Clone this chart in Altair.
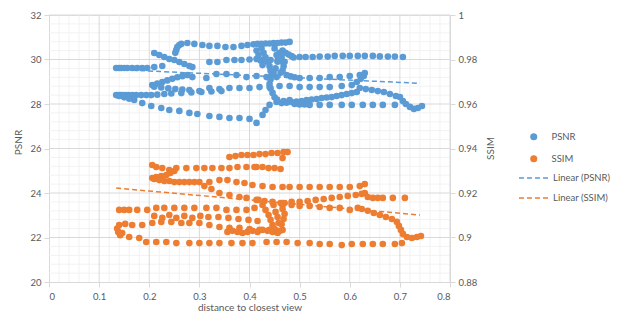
import altair as alt
import pandas as pd

FONT = "Lato"
GRAY = "#595959"
BLUE = "#5B9BD5"
ORANGE = "#ED7D31"

# ---------------- PSNR samples (distance, PSNR) ----------------
psnr_top_arc = [(0.252, 30.30), (0.254, 30.43), (0.256, 30.56), (0.26, 30.65), (0.264, 30.70),
                (0.276, 30.74), (0.29, 30.70), (0.306, 30.65), (0.32, 30.61), (0.336, 30.61),
                (0.352, 30.56), (0.368, 30.56), (0.384, 30.61), (0.396, 30.65), (0.408, 30.68),
                (0.416, 30.70), (0.424, 30.70), (0.432, 30.72), (0.44, 30.72), (0.448, 30.74),
                (0.456, 30.74), (0.464, 30.76), (0.472, 30.76), (0.48, 30.79),
                (0.466, 30.40), (0.472, 30.30), (0.478, 30.22), (0.484, 30.15)]
psnr_right_top = [(0.488, 30.09), (0.50, 30.11), (0.512, 30.11), (0.526, 30.11), (0.54, 30.13),
                  (0.556, 30.13), (0.57, 30.16), (0.586, 30.16), (0.60, 30.16), (0.616, 30.16),
                  (0.63, 30.16), (0.646, 30.16), (0.66, 30.14), (0.676, 30.13), (0.69, 30.13),
                  (0.706, 30.11)]
psnr_upper_z = [(0.21, 30.29), (0.22, 30.20), (0.23, 30.11), (0.24, 30.02), (0.25, 29.98),
                (0.26, 29.89), (0.27, 29.80), (0.28, 29.71), (0.286, 29.66),
                (0.32, 29.89), (0.336, 29.89), (0.354, 29.98), (0.37, 29.98), (0.384, 29.98),
                (0.40, 30.00), (0.414, 30.02), (0.428, 30.00), (0.442, 29.98), (0.456, 29.95),
                (0.47, 29.90)]
psnr_row_296 = [(0.134, 29.62), (0.14, 29.62), (0.144, 29.62), (0.15, 29.62), (0.156, 29.62),
                (0.166, 29.62), (0.176, 29.62), (0.186, 29.62), (0.196, 29.62), (0.21, 29.66),
                (0.226, 29.71)]
psnr_row_292 = [(0.206, 28.85), (0.216, 28.92), (0.226, 28.99), (0.236, 29.06), (0.246, 29.13),
                (0.256, 29.20), (0.266, 29.25), (0.276, 29.30),
                (0.286, 29.21), (0.314, 29.17), (0.334, 29.35), (0.354, 29.35), (0.374, 29.30),
                (0.394, 29.21), (0.414, 29.26), (0.434, 29.21), (0.454, 29.21), (0.474, 29.30),
                (0.482, 29.24), (0.49, 29.20), (0.50, 29.17), (0.52, 29.17), (0.54, 29.17),
                (0.56, 29.21), (0.58, 29.21), (0.60, 29.26), (0.62, 29.30), (0.63, 29.39)]
psnr_row_287 = [(0.21, 28.78), (0.224, 28.74), (0.238, 28.70), (0.252, 28.67), (0.266, 28.65),
                (0.28, 28.63), (0.30, 28.58), (0.32, 28.72), (0.34, 28.67), (0.36, 28.72),
                (0.38, 28.72), (0.40, 28.72), (0.42, 28.76), (0.44, 28.76), (0.46, 28.81),
                (0.48, 28.81), (0.50, 28.76), (0.52, 28.76), (0.54, 28.76), (0.56, 28.76),
                (0.584, 28.81), (0.604, 28.85), (0.614, 28.99), (0.622, 29.13), (0.628, 29.26)]
psnr_row_284 = [(0.134, 28.40), (0.138, 28.40), (0.142, 28.40), (0.146, 28.40), (0.152, 28.40),
                (0.158, 28.40), (0.166, 28.40), (0.174, 28.40), (0.184, 28.40), (0.194, 28.40),
                (0.204, 28.40), (0.216, 28.42), (0.23, 28.45), (0.244, 28.47), (0.264, 28.49),
                (0.284, 28.52), (0.304, 28.54), (0.324, 28.56), (0.344, 28.58)]
psnr_low_arc = [(0.14, 28.36), (0.15, 28.30), (0.16, 28.24), (0.17, 28.18), (0.186, 28.04),
                (0.204, 27.91), (0.224, 27.82), (0.24, 27.73), (0.26, 27.69), (0.28, 27.60),
                (0.296, 27.55), (0.32, 27.46), (0.34, 27.42), (0.36, 27.37), (0.38, 27.37),
                (0.40, 27.33), (0.414, 27.15), (0.426, 27.51), (0.432, 27.73), (0.44, 27.96),
                (0.454, 28.09), (0.468, 28.13), (0.48, 28.18)]
psnr_rise = [(0.464, 28.04), (0.474, 28.06), (0.484, 28.09), (0.494, 28.11), (0.504, 28.13),
             (0.514, 28.18), (0.524, 28.20), (0.534, 28.22), (0.544, 28.27), (0.554, 28.29),
             (0.564, 28.31), (0.574, 28.36), (0.584, 28.40), (0.594, 28.45), (0.604, 28.49),
             (0.614, 28.54)]
psnr_fall = [(0.62, 28.72), (0.632, 28.67), (0.644, 28.63), (0.656, 28.58), (0.668, 28.54),
             (0.68, 28.45), (0.692, 28.36), (0.70, 28.31), (0.706, 28.13), (0.712, 28.00),
             (0.72, 27.87), (0.728, 27.78), (0.736, 27.82), (0.744, 27.91)]
psnr_bottom = [(0.49, 28.00), (0.50, 27.98), (0.51, 27.98), (0.52, 27.96), (0.54, 27.96),
               (0.56, 27.96), (0.584, 27.96), (0.604, 27.96), (0.626, 27.96), (0.646, 27.96),
               (0.666, 27.96), (0.69, 27.96)]
psnr_cluster = [(0.424, 30.5), (0.428, 30.3), (0.432, 30.1), (0.436, 29.9), (0.44, 29.7),
                (0.442, 29.5), (0.444, 29.3), (0.442, 29.1), (0.44, 28.9), (0.442, 28.7),
                (0.446, 28.5), (0.45, 28.3), (0.455, 28.2), (0.46, 30.3), (0.464, 30.1),
                (0.466, 29.9), (0.468, 29.7), (0.466, 29.5), (0.462, 29.4), (0.45, 30.5),
                (0.454, 30.2), (0.456, 29.9), (0.452, 29.6), (0.448, 29.4), (0.414, 30.4),
                (0.418, 30.2), (0.422, 29.95), (0.426, 29.75)]

# ---------------- SSIM samples (distance, SSIM) ----------------
ssim_top = [(0.36, 0.9362), (0.372, 0.9366), (0.384, 0.9371), (0.396, 0.9371), (0.408, 0.9371),
            (0.42, 0.9375), (0.432, 0.9375), (0.444, 0.938), (0.456, 0.938), (0.468, 0.9384),
            (0.476, 0.9384), (0.414, 0.9317), (0.426, 0.9317), (0.438, 0.9312), (0.45, 0.9312),
            (0.462, 0.9308), (0.466, 0.9357)]
ssim_z = [(0.206, 0.9326), (0.214, 0.9317), (0.226, 0.9312), (0.24, 0.9303), (0.254, 0.9312),
          (0.274, 0.9312), (0.294, 0.9312), (0.31, 0.9312), (0.326, 0.9312), (0.344, 0.9312),
          (0.36, 0.9312), (0.376, 0.9317), (0.394, 0.9317), (0.41, 0.9317),
          (0.25, 0.9299), (0.242, 0.929), (0.234, 0.9281), (0.224, 0.9276), (0.214, 0.9272),
          (0.206, 0.9267), (0.21, 0.9263), (0.22, 0.9258), (0.23, 0.9254), (0.24, 0.9254),
          (0.25, 0.9249), (0.26, 0.9249), (0.27, 0.9249), (0.28, 0.9249), (0.29, 0.9249),
          (0.30, 0.9249)]
ssim_row_923 = [(0.32, 0.9249), (0.34, 0.9258), (0.356, 0.9258), (0.374, 0.9249), (0.39, 0.9245),
                (0.406, 0.9236), (0.426, 0.9231), (0.446, 0.9227), (0.466, 0.9227), (0.48, 0.9227),
                (0.50, 0.9227), (0.52, 0.9227), (0.54, 0.9227), (0.56, 0.9227), (0.58, 0.9227),
                (0.60, 0.9227), (0.62, 0.9231), (0.63, 0.924)]
ssim_desc = [(0.31, 0.9231), (0.324, 0.9218), (0.34, 0.92), (0.36, 0.9191), (0.38, 0.9182),
             (0.394, 0.9178), (0.414, 0.9169), (0.43, 0.9164), (0.446, 0.916), (0.466, 0.9155)]
ssim_rise = [(0.47, 0.9155), (0.484, 0.916), (0.50, 0.916), (0.516, 0.9164), (0.532, 0.9169),
             (0.548, 0.9173), (0.564, 0.9178), (0.58, 0.9182), (0.596, 0.9187), (0.612, 0.9191),
             (0.624, 0.9196), (0.63, 0.92), (0.636, 0.9182), (0.646, 0.9178), (0.656, 0.9178),
             (0.666, 0.9178), (0.686, 0.9178), (0.71, 0.9178)]
ssim_mid = [(0.466, 0.9146), (0.484, 0.9146), (0.50, 0.9142), (0.52, 0.9142), (0.54, 0.9137),
            (0.56, 0.9133), (0.58, 0.9133), (0.60, 0.9124), (0.616, 0.9133), (0.624, 0.9128),
            (0.636, 0.912), (0.648, 0.911), (0.66, 0.9101), (0.672, 0.9092), (0.684, 0.9083),
            (0.694, 0.907), (0.698, 0.9052), (0.702, 0.9034), (0.706, 0.9016), (0.714, 0.9002),
            (0.724, 0.8998), (0.734, 0.9002), (0.742, 0.9007)]
ssim_bottom = [(0.146, 0.902), (0.16, 0.9002), (0.18, 0.8998), (0.194, 0.898), (0.214, 0.898),
               (0.234, 0.898), (0.254, 0.8975), (0.28, 0.8975), (0.30, 0.8975), (0.32, 0.8975),
               (0.34, 0.8975), (0.364, 0.8975), (0.386, 0.8975), (0.406, 0.8975), (0.434, 0.898),
               (0.454, 0.898), (0.474, 0.898), (0.496, 0.8975), (0.52, 0.8975), (0.54, 0.8971),
               (0.56, 0.8971), (0.584, 0.8966), (0.604, 0.8971), (0.626, 0.8971), (0.646, 0.8971),
               (0.666, 0.8971), (0.69, 0.8971), (0.704, 0.8975)]
ssim_row_912 = [(0.14, 0.9124), (0.15, 0.9124), (0.16, 0.9124), (0.176, 0.9124), (0.196, 0.9124),
                (0.214, 0.9133), (0.23, 0.9133), (0.25, 0.9133), (0.27, 0.9133), (0.29, 0.9133),
                (0.314, 0.9133), (0.334, 0.9133), (0.354, 0.9124), (0.374, 0.9124),
                (0.394, 0.9124), (0.41, 0.9133)]
ssim_row_906 = [(0.136, 0.904), (0.138, 0.9025), (0.142, 0.901), (0.14, 0.9056), (0.152, 0.9061),
                (0.166, 0.9056), (0.186, 0.9056), (0.206, 0.9065), (0.224, 0.907), (0.244, 0.907),
                (0.264, 0.9065), (0.28, 0.9065), (0.30, 0.9065), (0.32, 0.9056), (0.34, 0.9047),
                (0.36, 0.9043), (0.38, 0.9043), (0.40, 0.9038), (0.42, 0.9034), (0.44, 0.9034),
                (0.46, 0.9029)]
ssim_zig = [(0.21, 0.9097), (0.226, 0.9088), (0.24, 0.9101), (0.254, 0.9088), (0.27, 0.9097),
            (0.286, 0.9088), (0.302, 0.9097), (0.318, 0.9092), (0.338, 0.9092), (0.358, 0.9088),
            (0.378, 0.9083), (0.398, 0.9079), (0.416, 0.9074),
            (0.356, 0.9025), (0.366, 0.903), (0.376, 0.9025), (0.386, 0.902), (0.396, 0.9025),
            (0.406, 0.903), (0.416, 0.9025), (0.426, 0.9034), (0.436, 0.903), (0.446, 0.9025),
            (0.456, 0.903), (0.466, 0.9034)]
ssim_cluster = [(0.418, 0.9169), (0.426, 0.9146), (0.432, 0.9124), (0.438, 0.9101), (0.442, 0.9079),
                (0.446, 0.9056), (0.45, 0.9038), (0.456, 0.902), (0.462, 0.9155), (0.466, 0.9128),
                (0.47, 0.9106), (0.468, 0.9083), (0.464, 0.906), (0.448, 0.9146), (0.452, 0.9115),
                (0.456, 0.9092), (0.458, 0.9065)]

# Linear trend lines (end points)
trend_x = [0.134, 0.74]
trend_psnr = [29.55, 28.93]
trend_ssim = [0.9222, 0.9101]

# Axis ticks
x_ticks = [0, 0.1, 0.2, 0.3, 0.4, 0.5, 0.6, 0.7, 0.8]
psnr_ticks = [20, 22, 24, 26, 28, 30, 32]
ssim_ticks = [0.88, 0.9, 0.92, 0.94, 0.96, 0.98, 1.0]
x_minor = [round(i * 0.02, 2) for i in range(41) if i % 5]
y_minor = [round(20 + i * 0.4, 1) for i in range(31) if i % 5]

psnr_pts = (psnr_top_arc + psnr_right_top + psnr_upper_z + psnr_row_296 + psnr_row_292 +
            psnr_row_287 + psnr_row_284 + psnr_low_arc + psnr_rise + psnr_fall + psnr_bottom +
            psnr_cluster)
ssim_pts = (ssim_top + ssim_z + ssim_row_923 + ssim_desc + ssim_rise + ssim_mid + ssim_bottom +
            ssim_row_912 + ssim_row_906 + ssim_zig + ssim_cluster)

psnr_df = pd.DataFrame(psnr_pts, columns=["x", "v"]).assign(series="PSNR")
ssim_df = pd.DataFrame(ssim_pts, columns=["x", "v"]).assign(series="SSIM")
tp_df = pd.DataFrame({"x": trend_x, "v": trend_psnr, "trend": "Linear (PSNR)"})
ts_df = pd.DataFrame({"x": trend_x, "v": trend_ssim, "trend": "Linear (SSIM)"})

x_scale = alt.Scale(domain=[0, 0.8], nice=False, zero=False)
yp_scale = alt.Scale(domain=[20, 32], nice=False, zero=False)
ys_scale = alt.Scale(domain=[0.88, 1.0], nice=False, zero=False)

axis_common = dict(grid=False, domainColor="#D9D9D9", tickColor="#D9D9D9", tickSize=5,
                   labelColor=GRAY, labelFont=FONT, labelFontSize=9.5, titleColor=GRAY,
                   titleFont=FONT, titleFontSize=10, titleFontWeight="normal")

x_axis = alt.Axis(values=x_ticks, format="~g", title="distance to closest view",
                  labelPadding=4, titlePadding=2, **axis_common)
yp_axis = alt.Axis(values=psnr_ticks, format="d", title="PSNR", orient="left",
                   labelPadding=3, titleAngle=270, titleX=-31, titleY=127,
                   titleAlign="center", titleBaseline="middle", **axis_common)
ys_axis = alt.Axis(values=ssim_ticks, format="~g", title="SSIM", orient="right",
                   labelPadding=3, titleAngle=270, titleX=40, titleY=133,
                   titleAlign="center", titleBaseline="middle", **axis_common)

X = alt.X("x:Q", scale=x_scale, axis=x_axis)

color = alt.Color("series:N", scale=alt.Scale(domain=["PSNR", "SSIM"], range=[BLUE, ORANGE]),
                  legend=alt.Legend(title=None, orient="none", legendX=480, legendY=117,
                                    symbolType="circle", symbolSize=50, labelOffset=13,
                                    labelFont=FONT, labelFontSize=9.5, labelColor=GRAY,
                                    rowPadding=11))
stroke = alt.Stroke("trend:N", scale=alt.Scale(domain=["Linear (PSNR)", "Linear (SSIM)"],
                                                range=[BLUE, ORANGE]),
                    legend=alt.Legend(title=None, orient="none", legendX=477, legendY=154,
                                      symbolType="M-2,0H2", symbolSize=256,
                                      symbolDash=[5, 3], symbolStrokeWidth=1.5, labelOffset=9,
                                      labelFont=FONT, labelFontSize=9.5, labelColor=GRAY,
                                      rowPadding=6))

Yp_grid = alt.Y("v:Q", scale=yp_scale, axis=yp_axis)
X_grid = alt.X("x:Q", scale=x_scale, axis=x_axis)

grid_x_minor = alt.Chart(pd.DataFrame({"x": x_minor})).mark_rule(
    color="#F2F2F2", strokeWidth=1).encode(x=X_grid)
grid_x_major = alt.Chart(pd.DataFrame({"x": x_ticks[1:]})).mark_rule(
    color="#D9D9D9", strokeWidth=1).encode(x=X_grid)
grid_y_minor = alt.Chart(pd.DataFrame({"v": y_minor})).mark_rule(
    color="#F2F2F2", strokeWidth=1).encode(y=Yp_grid)
grid_y_major = alt.Chart(pd.DataFrame({"v": psnr_ticks[1:]})).mark_rule(
    color="#D9D9D9", strokeWidth=1).encode(y=Yp_grid)

psnr_trend = alt.Chart(tp_df).mark_line(strokeDash=[5, 3], strokeWidth=1.5).encode(
    x=X, y=alt.Y("v:Q", scale=yp_scale, axis=yp_axis), stroke=stroke)
psnr_layer = alt.Chart(psnr_df).mark_circle(size=44, opacity=1).encode(
    x=X, y=alt.Y("v:Q", scale=yp_scale, axis=yp_axis), color=color)

ssim_trend = alt.Chart(ts_df).mark_line(strokeDash=[5, 3], strokeWidth=1.5).encode(
    x=X, y=alt.Y("v:Q", scale=ys_scale, axis=ys_axis), stroke=stroke)
ssim_layer = alt.Chart(ssim_df).mark_circle(size=44, opacity=1).encode(
    x=X, y=alt.Y("v:Q", scale=ys_scale, axis=ys_axis), color=color)

left = alt.layer(grid_x_minor, grid_y_minor, grid_x_major, grid_y_major, psnr_trend, psnr_layer)
right = alt.layer(ssim_trend, ssim_layer)

chart = alt.layer(left, right).resolve_scale(y="independent").properties(
    width=401, height=267,
    autosize=alt.AutoSizeParams(type="none"),
    padding={"left": 41, "top": 7, "right": 160, "bottom": 30},
).configure_view(stroke=None).configure(background="white")

chart.save("out.html", embed_options={"renderer": "svg", "actions": False})
